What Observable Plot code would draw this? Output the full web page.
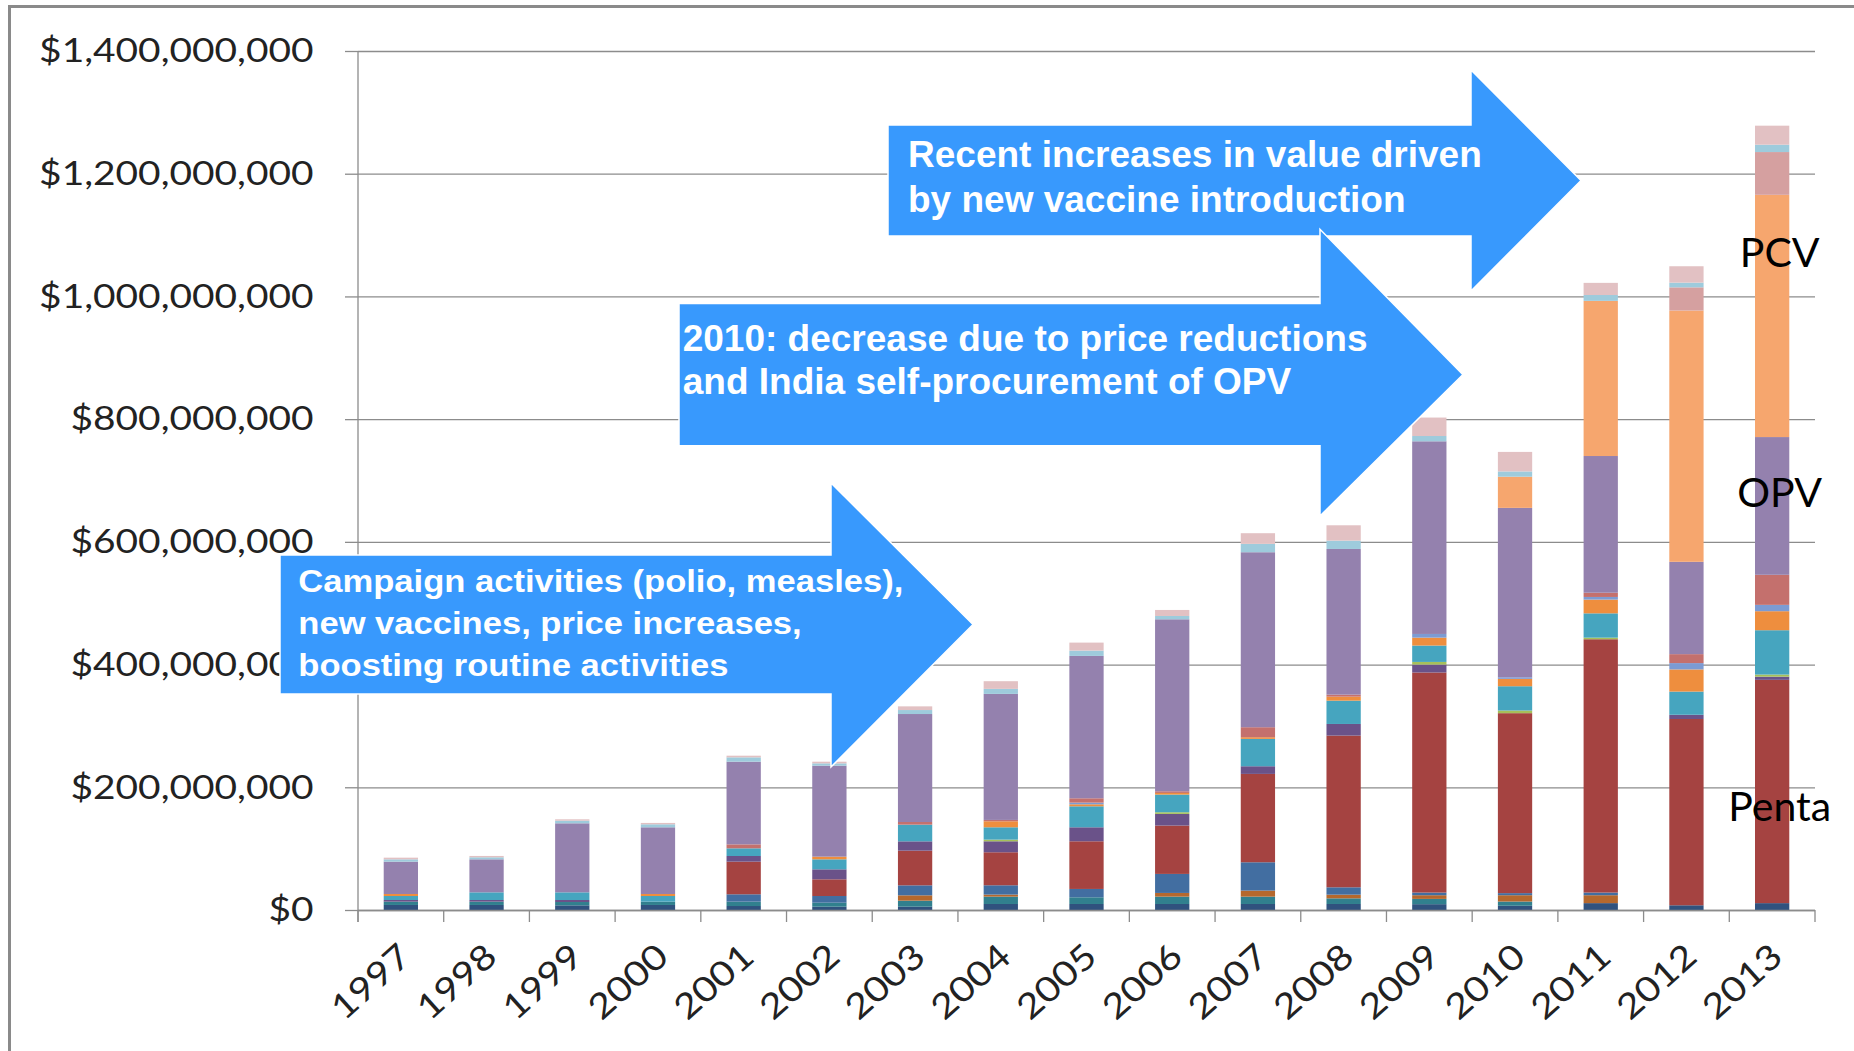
<!DOCTYPE html>
<html>
<head>
<meta charset="utf-8">
<script src="https://cdn.jsdelivr.net/npm/d3@7"></script>
<script src="https://cdn.jsdelivr.net/npm/@observablehq/plot@0.6"></script>
<style>
  html, body { margin: 0; padding: 0; background: #fff; }
  #wrap { position: relative; width: 1854px; height: 1051px; overflow: hidden; }
  #frame { position: absolute; left: 8px; top: 5px; width: 2000px; height: 2000px;
           border-left: 3px solid #8a8a8a; border-top: 3px solid #8a8a8a; }
  #wrap svg { position: absolute; left: 0; top: 0; }
</style>
</head>
<body>
<div id="wrap"><div id="frame"></div></div>
<script>
// Procurement value by product, US$ millions, 1997-2013 (stacked bottom to top)
const years = ["1997","1998","1999","2000","2001","2002","2003","2004","2005","2006","2007","2008","2009","2010","2011","2012","2013"];

const bcg      = [8.2, 8.2, 7.6, 8.2, 6.5, 5.4, 5.4, 9.8, 9.8, 9.8, 9.8, 9.8, 9.5, 6.9, 11.2, 7.7, 11.2];
const dtp      = [5.4, 5.4, 5.4, 5.4, 7.1, 6.5, 9.8, 12.0, 10.9, 12.0, 12.0, 9.2, 8.6, 6.9, 0, 0, 0];
const tt       = [0, 0, 0, 0, 0, 0, 8.7, 3.3, 0, 6.0, 9.8, 6.0, 6.0, 10.3, 12.9, 0, 0];
const hepB     = [0, 0, 0, 0, 12.0, 10.9, 16.3, 15.2, 13.6, 31.0, 46.2, 12.0, 4.3, 3.4, 4.3, 0, 0];
const penta    = [0, 0, 0, 0, 53.2, 27.2, 56.5, 53.8, 77.7, 78.8, 144.0, 247.2, 358.7, 293.3, 412.9, 303.6, 363.9];
const dtpHepB  = [2.7, 2.7, 3.3, 0, 9.2, 16.3, 15.2, 17.9, 22.8, 19.0, 12.5, 19.0, 12.9, 0, 0, 6.9, 5.2];
const yf       = [0, 0, 0, 0, 0, 0, 0, 2.7, 0, 2.7, 0, 0, 4.3, 4.3, 2.6, 0, 3.4];
const measles  = [6.5, 12.5, 12.5, 9.2, 12.5, 16.3, 27.2, 20.1, 34.2, 28.8, 44.6, 38.0, 26.7, 39.6, 39.6, 37.8, 72.3];
const hib      = [3.3, 0, 0, 3.3, 0, 4.3, 0, 9.8, 3.3, 2.7, 2.7, 6.5, 12.9, 12.0, 22.4, 36.1, 31.0];
const rota     = [0, 0, 0, 0, 0, 0, 0, 0, 2.7, 0, 0, 0, 6.0, 2.6, 4.3, 10.3, 10.3];
const mr       = [0, 0, 0, 0, 6.5, 0, 4.3, 2.2, 7.1, 2.7, 16.3, 3.3, 0, 0, 6.9, 14.6, 49.0];
const opv      = [52.7, 53.8, 112.5, 108.7, 134.7, 148.3, 176.0, 205.4, 232.0, 280.3, 285.2, 237.4, 314.0, 276.1, 222.8, 150.5, 224.5];
const pcv      = [0, 0, 0, 0, 0, 0, 0, 0, 0, 0, 0, 0, 0, 50.8, 252.9, 409.5, 394.8];
const menA     = [0, 0, 0, 0, 0, 0, 0, 0, 0, 0, 0, 0, 0, 0, 0, 37.8, 69.7];
const otherVax = [3.8, 3.3, 4.3, 4.9, 7.1, 3.8, 6.5, 8.2, 8.7, 5.4, 13.6, 13.6, 8.6, 8.6, 9.5, 7.7, 12.0];
const devices  = [2.7, 2.2, 2.2, 2.2, 2.7, 2.7, 6.0, 12.5, 13.0, 9.8, 17.4, 25.0, 30.1, 31.8, 19.8, 26.7, 31.0];

const seriesNames = ["BCG", "DTP", "TT", "HepB", "Penta", "DTP-HepB", "YF", "Measles", "Hib",
                     "Rota", "MR", "OPV", "PCV", "MenA", "Other vaccines", "Devices"];
const seriesValues = [bcg, dtp, tt, hepB, penta, dtpHepB, yf, measles, hib,
                      rota, mr, opv, pcv, menA, otherVax, devices];
const seriesColors = ["#30527e", "#31808e", "#b5682d", "#426ea1", "#a54341", "#6a5289", "#a6c05a", "#46a5bf", "#ee8e3e",
                      "#7c9bd3", "#c4706d", "#9481ae", "#f6a66e", "#d5a0a0", "#9ecbdc", "#e2c1c3"];

const yTicks = [0, 200e6, 400e6, 600e6, 800e6, 1000e6, 1200e6, 1400e6];

// Names written beside the 2013 bar, at a value height (US$ millions)
const seriesLabels = [
  {name: "PCV", value: 1049},
  {name: "OPV", value: 658},
  {name: "Penta", value: 146}
];

// Callout arrows drawn over the chart
const callouts = [
  {lines: ["Recent increases in value driven", "by new vaccine introduction"],
   x0: 888, x1: 1471, top: 125, bottom: 236, headTop: 70, headBottom: 291, tip: 1581,
   textX: 908, baselines: [166.7, 211.7], size: 37, stretch: 1},
  {lines: ["2010: decrease due to price reductions", "and India self-procurement of OPV"],
   x0: 679, x1: 1320, top: 303.5, bottom: 445.7, headTop: 229.3, headBottom: 516, tip: 1463,
   textX: 682.7, baselines: [350.7, 394], size: 37, stretch: 1},
  {lines: ["Campaign activities (polio, measles),", "new vaccines, price increases,", "boosting routine activities"],
   x0: 280, x1: 831, top: 555, bottom: 694, headTop: 483, headBottom: 767, tip: 973,
   textX: 298.3, baselines: [591.7, 634, 675.7], size: 31, stretch: 1.115}
];

// Long table for the stack
const rows = [];
seriesNames.forEach((s, j) => {
  years.forEach((yr, i) => rows.push({year: yr, series: s, value: seriesValues[j][i] * 1e6}));
});

const axisGray = "#8c8c8c";
const textDark = "#222";
const dollars = d => "$" + d3.format(",")(d);

const chart = Plot.plot({
  width: 1854,
  height: 1051,
  marginLeft: 358,
  marginRight: 39,
  marginTop: 51,
  marginBottom: 141,
  style: {background: "transparent", fontFamily: "Lato, 'Open Sans', sans-serif", overflow: "visible"},
  x: {domain: years, paddingInner: 0.6, paddingOuter: 0.3, round: false, label: null},
  y: {domain: [0, 1.4e9], label: null},
  color: {domain: seriesNames, range: seriesColors},
  marks: [
    Plot.gridY(yTicks, {stroke: axisGray, strokeOpacity: 1, strokeWidth: 1.3}),
    Plot.axisY(yTicks, {tickSize: 13, tickPadding: 32, tickFormat: dollars, fontSize: 33.5,
                        stroke: axisGray, strokeWidth: 1.3, fill: textDark, label: null}),
    Plot.barY(rows, {x: "year", y: "value", fill: "series", order: seriesNames}),
    Plot.ruleY([0], {stroke: axisGray, strokeWidth: 1.3}),
    Plot.axisX({tickSize: 0, tickPadding: 0, tickRotate: -42, textAnchor: "end", lineAnchor: "bottom",
                dx: 12, dy: 49, fontSize: 34.5, fill: textDark, label: null}),
    Plot.text(seriesLabels, {x: () => "2013", y: d => d.value * 1e6, text: "name",
                             textAnchor: "middle", lineAnchor: "bottom", dx: 7,
                             fontSize: 41, fill: "#000"})
  ]
});

document.getElementById("wrap").appendChild(chart);

const svg = d3.select(chart);
const xs = chart.scale("x");
const ys = chart.scale("y");

// Widen the tick labels a little, as in the original artwork
svg.selectAll('g[aria-label="y-axis tick label"] text, g[aria-label="x-axis tick label"] text')
  .each(function () {
    const len = this.getComputedTextLength();
    d3.select(this).attr("textLength", len * 1.16).attr("lengthAdjust", "spacingAndGlyphs");
  });

// Vertical value axis line and category boundary ticks
const xLeft = xs.apply(years[0]) - (xs.step - xs.bandwidth) / 2;
const y0 = ys.apply(0);
const axes = svg.append("g").attr("stroke", axisGray).attr("stroke-width", 1.3);
axes.append("line").attr("x1", xLeft).attr("x2", xLeft)
  .attr("y1", ys.apply(1.4e9)).attr("y2", y0 + 12);
d3.range(years.length + 1).forEach(k => {
  const xb = xLeft + k * xs.step;
  axes.append("line").attr("x1", xb).attr("x2", xb).attr("y1", y0).attr("y2", y0 + 12);
});

// Callout arrows with their text
const arrowPoints = c => {
  const mid = (c.top + c.bottom) / 2;
  return [[c.x0, c.top], [c.x1, c.top], [c.x1, c.headTop], [c.tip, mid],
          [c.x1, c.headBottom], [c.x1, c.bottom], [c.x0, c.bottom]];
};
callouts.forEach(c => {
  const g = svg.append("g").attr("text-anchor", "start");
  g.append("polygon")
    .attr("points", arrowPoints(c).map(p => p.join(",")).join(" "))
    .attr("fill", "#3899fd")
    .attr("stroke", "#fff")
    .attr("stroke-width", 1.5);
  c.lines.forEach((line, i) => {
    g.append("text")
      .attr("transform", `translate(${c.textX},${c.baselines[i]}) scale(${c.stretch},1)`)
      .attr("text-anchor", "start")
      .attr("font-family", "'Liberation Sans', Arial, sans-serif")
      .attr("font-weight", "bold")
      .attr("font-size", c.size)
      .attr("fill", "#fff")
      .text(line);
  });
});
</script>
</body>
</html>
